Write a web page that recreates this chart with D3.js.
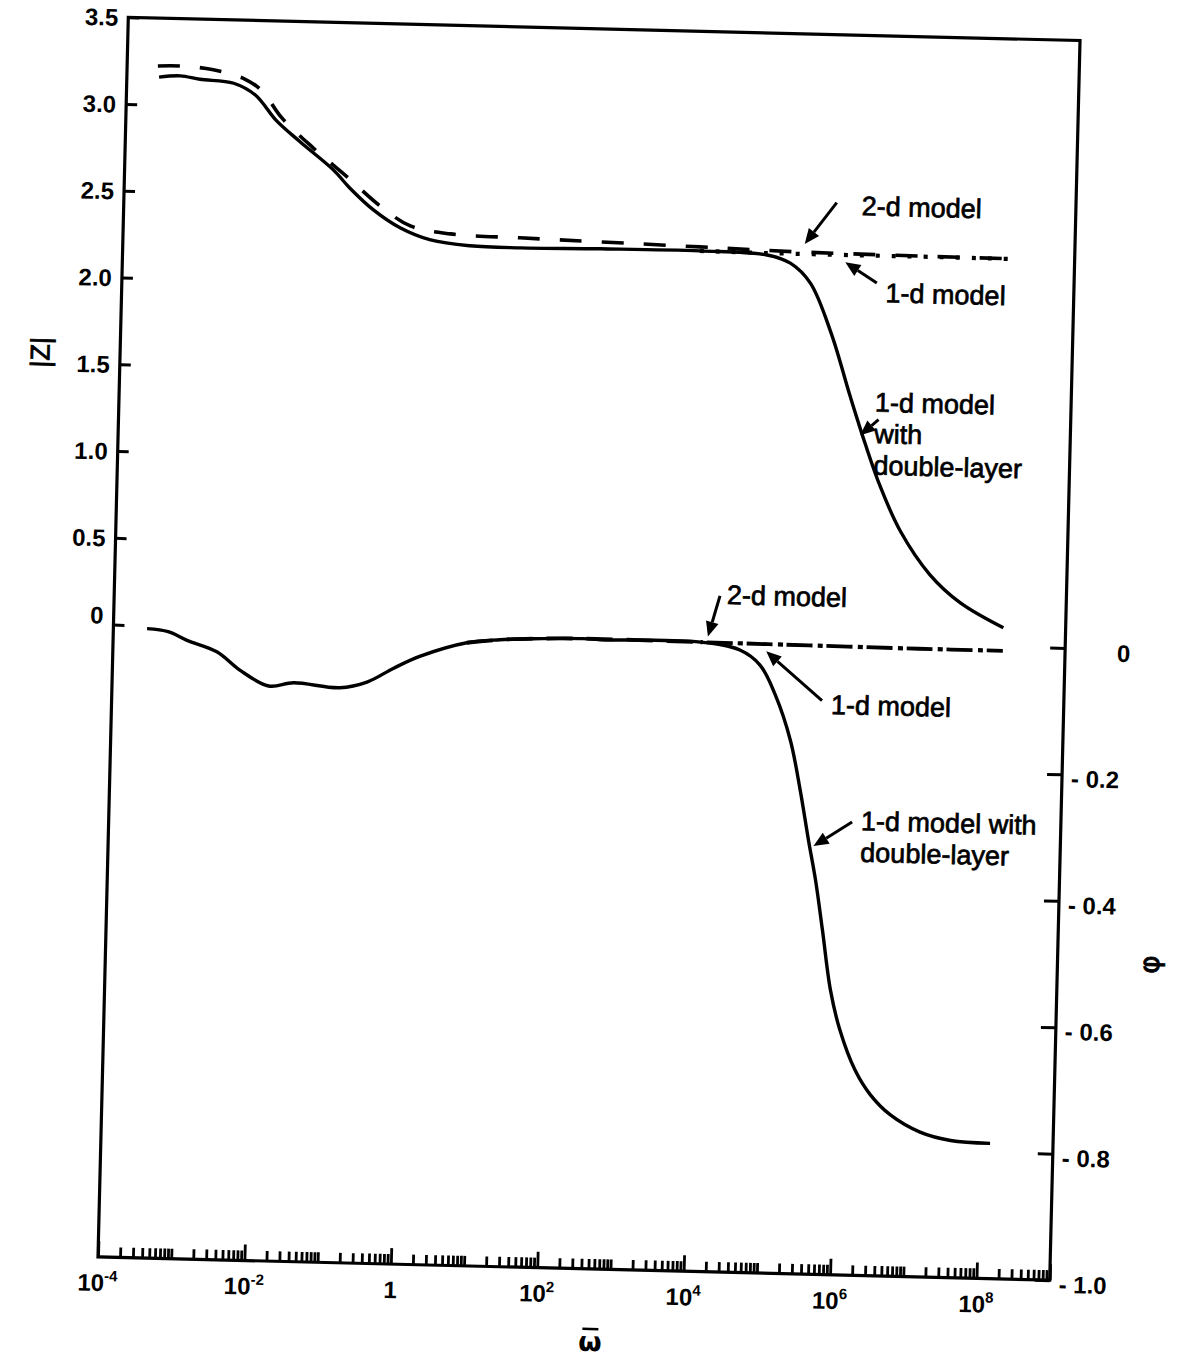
<!DOCTYPE html>
<html>
<head>
<meta charset="utf-8">
<script src="https://cdn.jsdelivr.net/npm/d3@7"></script>
<style>
  body { margin: 0; background: #fff; }
  svg { display: block; }
</style>
</head>
<body>
<svg id="fig" width="1183" height="1365"></svg>
<script>
// Each curve: pairs of [log10 of ω̄, value]
// |Z| curves
const magDoubleLayer = [
  [-3.56, 3.160], [-3.27, 3.170], [-3.00, 3.153], [-2.54, 3.135], [-2.24, 3.070],
  [-1.94, 2.924], [-1.61, 2.806], [-1.15, 2.650], [-0.92, 2.548], [-0.59, 2.425],
  [-0.22, 2.326], [0.20, 2.260], [0.74, 2.232], [1.43, 2.227], [2.52, 2.233],
  [3.88, 2.235], [4.80, 2.221], [5.12, 2.177], [5.40, 2.065], [5.70, 1.780],
  [5.98, 1.420], [6.20, 1.150], [6.42, 0.905], [6.71, 0.650], [7.13, 0.402],
  [7.55, 0.246], [8.15, 0.107]
];
const mag2d = [
  [-3.58, 3.224], [-3.28, 3.227], [-2.84, 3.211], [-2.39, 3.161], [-2.15, 3.095],
  [-1.87, 2.942], [-1.43, 2.773], [-0.96, 2.612], [-0.50, 2.449], [-0.08, 2.338],
  [0.47, 2.298], [1.42, 2.285], [2.52, 2.273], [3.88, 2.258], [5.25, 2.243],
  [8.16, 2.233]
];
const mag1d = [
  [3.88, 2.235], [4.80, 2.232], [6.00, 2.232], [7.00, 2.233], [8.16, 2.232]
];

// Phase curves
const phaseDoubleLayer = [
  [-3.54, -0.005], [-3.25, -0.009], [-2.99, -0.022], [-2.58, -0.039], [-2.26, -0.067],
  [-1.86, -0.091], [-1.52, -0.085], [-0.89, -0.091], [-0.52, -0.081], [-0.16, -0.058],
  [0.20, -0.038], [0.83, -0.015], [1.28, -0.009], [1.74, -0.006], [2.42, -0.004],
  [2.65, -0.005], [4.02, -0.005], [4.56, -0.016], [4.84, -0.039], [5.06, -0.086],
  [5.28, -0.157], [5.43, -0.235], [5.56, -0.314], [5.67, -0.377], [5.78, -0.455],
  [5.91, -0.550], [6.05, -0.612], [6.27, -0.675], [6.49, -0.714], [6.77, -0.745],
  [7.18, -0.771], [7.60, -0.783], [8.14, -0.786]
];
const phase2d = [
  [0.83, -0.015], [1.28, -0.009], [1.74, -0.006], [2.42, -0.004], [4.02, -0.005],
  [5.50, -0.006], [7.00, -0.007], [8.15, -0.007]
];
const phase1d = [
  [4.02, -0.005], [5.50, -0.006], [7.00, -0.007], [8.15, -0.007]
];

// Axis ticks and labels
const magTicks = [0, 0.5, 1.0, 1.5, 2.0, 2.5, 3.0, 3.5];
const magTickLabels = ["0", "0.5", "1.0", "1.5", "2.0", "2.5", "3.0", "3.5"];
const phaseTicks = [0, -0.2, -0.4, -0.6, -0.8, -1.0];
const phaseTickLabels = ["0", "- 0.2", "- 0.4", "- 0.6", "- 0.8", "- 1.0"];
const decades = [-4, -3, -2, -1, 0, 1, 2, 3, 4, 5, 6, 7, 8, 9];
const labeledDecades = [-4, -2, 0, 2, 4, 6, 8];

// Callouts: text lines, arrow head in data space, tail offset in px
const magNotes = [
  { lines: ["2-d model"], head: [5.31, 2.29], tail: [31, -42], text: [56, -30] },
  { lines: ["1-d model"], head: [5.87, 2.19], tail: [32, 20], text: [41, 39] },
  { lines: ["1-d model", "with", "double-layer"], head: [6.13, 1.196], tail: [18, -16], text: [14, -24] }
];
const phaseNotes = [
  { lines: ["2-d model"], head: [4.12, 0.004], tail: [11, -41], text: [18, -33] },
  { lines: ["1-d model"], head: [4.92, -0.017], tail: [57, 48], text: [66, 61] },
  { lines: ["1-d model with", "double-layer"], head: [5.63, -0.323], tail: [38, -25], text: [47, -17] }
];

const W = 952, H = 1240;
const FONT = "'Liberation Sans', Arial, Helvetica, sans-serif";

const svg = d3.select("#fig");
svg.append("rect").attr("width", 1183).attr("height", 1365).attr("fill", "#fff");

// the whole figure sits at a slight clockwise tilt
const g = svg.append("g").attr("transform", "translate(128.3,17.3) rotate(1.4)");

const x = d3.scaleLog().domain([1e-4, 1e9]).range([0, W]);
const yMag = d3.scaleLinear().domain([0, 3.5]).range([607.5, 0]);
const yPhase = d3.scaleLinear().domain([-1, 0]).range([H, 607.5]);

const smooth = d3.curveCatmullRom.alpha(0.5);
const lineMag = d3.line().x(d => x(Math.pow(10, d[0]))).y(d => yMag(d[1])).curve(smooth);
const linePhase = d3.line().x(d => x(Math.pow(10, d[0]))).y(d => yPhase(d[1])).curve(smooth);

// frame
g.append("rect").attr("x", 0).attr("y", 0).attr("width", W).attr("height", H)
  .attr("fill", "none").attr("stroke", "#000").attr("stroke-width", 3.2);

// left axis: |Z|
const leftAxis = g.append("g").call(
  d3.axisLeft(yMag).tickValues(magTicks).tickSizeInner(-11).tickSizeOuter(0).tickPadding(10)
    .tickFormat((d, i) => magTickLabels[i])
);
leftAxis.select(".domain").remove();
leftAxis.selectAll("line").attr("stroke", "#000").attr("stroke-width", 3);
leftAxis.selectAll("text").attr("font-family", FONT).attr("font-size", 24).attr("font-weight", "bold")
  .attr("fill", "#000").attr("dy", d => d === 0 ? "-0.05em" : "0.34em");

// right axis: phase
const rightAxis = g.append("g").attr("transform", `translate(${W},0)`).call(
  d3.axisRight(yPhase).tickValues(phaseTicks).tickSizeInner(-15).tickSizeOuter(0).tickPadding(12)
    .tickFormat((d, i) => phaseTickLabels[i])
);
rightAxis.select(".domain").remove();
rightAxis.selectAll("line").attr("stroke", "#000").attr("stroke-width", 3);
rightAxis.selectAll("text").attr("font-family", FONT).attr("font-size", 24).attr("font-weight", "bold")
  .attr("fill", "#000").attr("dy", "0.5em")
  .attr("x", d => d === 0 ? 52 : 9);

// bottom axis: log ticks pointing into the plot
const bottomVals = [];
decades.forEach(e => {
  if (e === 9) { bottomVals.push(1e9); return; }
  for (let k = 1; k <= 9; k++) bottomVals.push(k * Math.pow(10, e));
});
const isLabeled = v => {
  const l = Math.log10(v), r = Math.round(l);
  return Math.abs(l - r) < 1e-9 && (labeledDecades.includes(r) || r === 9);
};
const bottomAxis = g.append("g").attr("transform", `translate(0,${H})`).call(
  d3.axisBottom(x).tickValues(bottomVals).tickSizeOuter(0).tickFormat("")
);
bottomAxis.select(".domain").remove();
bottomAxis.selectAll("line").attr("stroke", "#000").attr("stroke-width", 2.8)
  .attr("y2", d => isLabeled(d) ? -16 : -10);

// bottom tick labels with superscript exponents
labeledDecades.forEach(e => {
  const t = g.append("text").attr("x", x(Math.pow(10, e))).attr("y", H + 34)
    .attr("text-anchor", "middle").attr("font-family", FONT).attr("font-size", 24)
    .attr("font-weight", "bold").attr("fill", "#000");
  if (e === 0) { t.text("1"); return; }
  t.append("tspan").text("10");
  t.append("tspan").attr("dy", -10).attr("font-size", 15).text(String(e));
});

// axis titles
g.append("text").attr("transform", "translate(-80,337) rotate(-90)")
  .attr("text-anchor", "middle").attr("dy", "0.35em")
  .attr("font-family", FONT).attr("font-size", 27).attr("fill", "#000")
  .attr("stroke", "#000").attr("stroke-width", 0.8).text("|Z|");
g.append("text").attr("transform", `translate(${W + 93},922) rotate(-90)`)
  .attr("text-anchor", "middle").attr("dy", "0.3em")
  .attr("font-family", "'DejaVu Sans', sans-serif").attr("font-size", 28).attr("fill", "#000")
  .attr("stroke", "#000").attr("stroke-width", 0.8).text("φ");
const omegaX = 494, omegaY = 1322;
g.append("text").attr("x", omegaX).attr("y", omegaY).attr("text-anchor", "middle")
  .attr("font-family", "'DejaVu Sans', sans-serif").attr("font-weight", "bold").attr("font-size", 27)
  .attr("fill", "#000").text("ω");
g.append("line").attr("x1", omegaX - 8).attr("x2", omegaX + 8).attr("y1", omegaY - 22).attr("y2", omegaY - 22)
  .attr("stroke", "#000").attr("stroke-width", 2.4);

// curves
const curves = g.append("g").attr("fill", "none").attr("stroke", "#000")
  .attr("stroke-linejoin", "round");
curves.append("path").attr("d", lineMag(magDoubleLayer)).attr("stroke-width", 3.4);
curves.append("path").attr("d", lineMag(mag2d)).attr("stroke-width", 3.6).attr("stroke-dasharray", "22,20");
curves.append("path").attr("d", lineMag(mag1d)).attr("stroke-width", 4.2).attr("stroke-dasharray", "4,12");
curves.append("path").attr("d", linePhase(phaseDoubleLayer)).attr("stroke-width", 3.4);
curves.append("path").attr("d", linePhase(phase2d)).attr("stroke-width", 3.8).attr("stroke-dasharray", "26,14");
// dots of the 1-d line sit in the gaps of the 2-d dashes
const phaseShift = x(Math.pow(10, phase1d[0][0])) - x(Math.pow(10, phase2d[0][0]));
curves.append("path").attr("d", linePhase(phase1d)).attr("stroke-width", 4.2)
  .attr("stroke-dasharray", "0,31,5,4").attr("stroke-dashoffset", phaseShift);

// callouts
function callout(note, yScale) {
  const hx = x(Math.pow(10, note.head[0])), hy = yScale(note.head[1]);
  const tx = hx + note.tail[0], ty = hy + note.tail[1];
  const ang = Math.atan2(hy - ty, hx - tx);
  const len = 15, half = 6.5;
  const bx = hx - len * Math.cos(ang), by = hy - len * Math.sin(ang);
  g.append("line").attr("x1", tx).attr("y1", ty).attr("x2", bx).attr("y2", by)
    .attr("stroke", "#000").attr("stroke-width", 3);
  g.append("path")
    .attr("d", `M${hx},${hy}L${bx - half * Math.sin(ang)},${by + half * Math.cos(ang)}L${bx + half * Math.sin(ang)},${by - half * Math.cos(ang)}Z`)
    .attr("fill", "#000");
  const t = g.append("text").attr("font-family", FONT).attr("font-size", 27).attr("fill", "#000")
    .attr("stroke", "#000").attr("stroke-width", 0.7);
  note.lines.forEach((s, i) => {
    t.append("tspan").attr("x", hx + note.text[0]).attr("y", hy + note.text[1] + i * 31.5).text(s);
  });
}
magNotes.forEach(n => callout(n, yMag));
phaseNotes.forEach(n => callout(n, yPhase));
</script>
</body>
</html>
